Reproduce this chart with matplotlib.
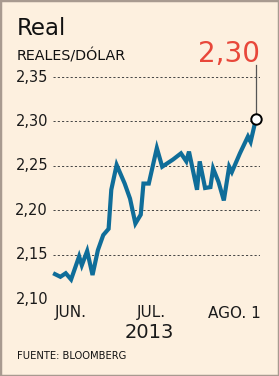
import matplotlib
matplotlib.use('Agg')
import matplotlib.pyplot as plt
import matplotlib.transforms as mtrans
from matplotlib.patches import Rectangle

# days since June 1, 2013 and BRL per USD
dias = [-6, -4, -2, 0, 3, 4, 6, 8, 10, 12, 14, 15, 17, 20, 22, 24, 26, 27, 29,
        32, 34, 38, 41, 43, 44, 47, 48, 50, 52, 53, 55, 57, 59, 60, 63, 66, 67, 69]
reales = [2.128, 2.125, 2.129, 2.122, 2.148, 2.138, 2.154, 2.127, 2.155, 2.172,
          2.179, 2.223, 2.251, 2.230, 2.213, 2.185, 2.195, 2.230, 2.230,
          2.270, 2.249, 2.257, 2.264, 2.255, 2.266, 2.223, 2.255, 2.225, 2.226,
          2.247, 2.232, 2.211, 2.249, 2.243, 2.264, 2.283, 2.277, 2.303]
yticks = [2.10, 2.15, 2.20, 2.25, 2.30, 2.35]
meses = ['JUN.', 'JUL.', 'AGO. 1']
mes_dias = [0, 30, 61]

W, H = 279, 376
bg = '#fdf0df'
azul = '#0f6d99'
rojo = '#e8473a'

fig = plt.figure(figsize=(W / 100, H / 100), dpi=100)
fig.patch.set_facecolor(bg)
fig.patches.append(Rectangle((0, 0), 1, 1, transform=fig.transFigure, fill=False,
                             edgecolor='#a89a90', linewidth=2.5))

def fx(px):
    return px / W

def fy(py):
    return 1 - py / H

ax = fig.add_axes([fx(53), fy(299), fx(260) - fx(53), fy(77) - fy(299)])
ax.set_facecolor('none')
ax.set_xlim(-6.75, 70.5)
ax.set_ylim(2.10, 2.35)
for s in ax.spines.values():
    s.set_visible(False)
ax.set_xticks([])
ax.set_yticks([])

# y labels: x in figure coords, y in data
ytr = mtrans.blended_transform_factory(fig.transFigure, ax.transData)
for v in yticks:
    ax.axhline(v, color='#444444', lw=0.7, ls=(0, (2.2, 2.2)), zorder=1)
    fig.text(fx(48), v, f'{v:.2f}'.replace('.', ','), ha='right', va='center',
             fontsize=10.5, color='#1a1a1a', transform=ytr)

ax.plot(dias, reales, color=azul, lw=3.0, solid_joinstyle='miter', zorder=3, clip_on=False)
ax.plot([dias[-1], dias[-1]], [reales[-1], 2.363], color='#555555', lw=0.9, zorder=2, clip_on=False)
ax.plot(dias[-1], reales[-1], 'o', ms=7.5, mfc='white', mec='black', mew=1.4, zorder=4, clip_on=False)

xtr = mtrans.blended_transform_factory(ax.transData, fig.transFigure)
for d, m in zip(mes_dias, meses):
    fig.text(d, fy(313), m, ha='center', va='center',
             fontsize=11, color='#1a1a1a', transform=xtr)
fig.text(fx(149), fy(333), '2013', ha='center', va='center', fontsize=14, color='#1a1a1a')

fig.text(fx(17), fy(35), 'Real', fontsize=16.5, color='#111111', va='baseline')
fig.text(fx(17), fy(60), 'REALES/DÓLAR', fontsize=10.3, color='#111111', va='baseline')
fig.text(fx(260), fy(62), '2,30', fontsize=20, color=rojo, va='baseline', ha='right')
fig.text(fx(17), fy(359), 'FUENTE: BLOOMBERG', fontsize=7.2, color='#111111', va='baseline')

fig.savefig('out.png', dpi=100, facecolor=bg)
